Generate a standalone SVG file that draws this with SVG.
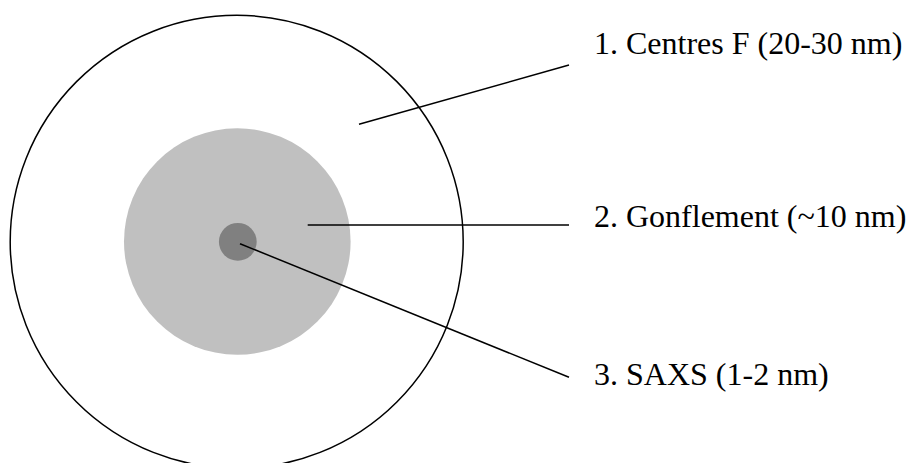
<svg xmlns="http://www.w3.org/2000/svg" width="909" height="463" viewBox="0 0 909 463">
<style>
.lbl{font-size:32px;fill:#000}
.ln{stroke:#000;stroke-width:1.5;fill:none}
</style>
<rect width="909" height="463" fill="#fff"/>
<g id="outer"><circle cx="236.7" cy="241.8" r="226.5" fill="none" stroke="#000" stroke-width="1.5"/></g>
<g id="swelling"><circle cx="237.3" cy="241.5" r="113.3" fill="#C0C0C0"/></g>
<g id="saxs-core"><circle cx="237.8" cy="241.8" r="18.9" fill="#808080"/></g>
<g id="connectors">
<line class="ln" x1="359" y1="124.3" x2="569" y2="65"/>
<line class="ln" x1="307.7" y1="225" x2="569" y2="225"/>
<line class="ln" x1="240" y1="243.7" x2="569" y2="377.3"/>
</g>
<g font-family="'Liberation Serif', 'Times New Roman', Times, serif">
<g id="label1"><text class="lbl" x="594" y="54">1. Centres F (20-30 nm)</text></g>
<g id="label2"><text class="lbl" x="594" y="227">2. Gonflement (~10 nm)</text></g>
<g id="label3"><text class="lbl" x="594" y="385">3. SAXS (1-2 nm)</text></g>
</g>
</svg>
